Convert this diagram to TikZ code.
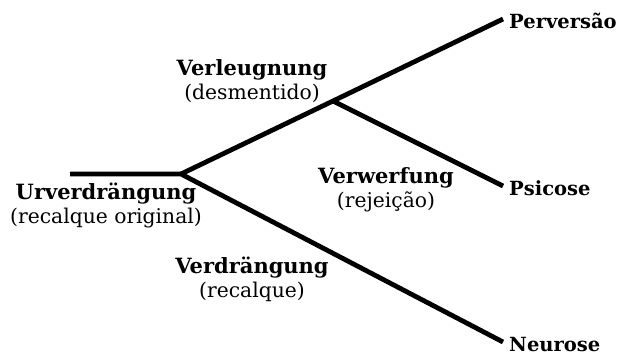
\documentclass[tikz,border=0pt]{standalone}
\usepackage{fontspec}
\setmainfont{DejaVu Serif}
\begin{document}
\begin{tikzpicture}[x=1pt,y=-1pt,
  branch/.style={line width=4.8pt,line cap=butt,line join=miter},
  term/.style={font=\fontsize{19.5}{22}\selectfont\bfseries,anchor=base west,
    inner xsep=6pt,inner ysep=0pt,text height=18pt,text depth=0pt},
  lbl/.style={align=center,inner sep=0pt,anchor=base,
    font=\fontsize{20.3}{24}\selectfont}]
\newcommand\headword[1]{{\bfseries\fontsize{21}{24}\selectfont #1}}
\useasboundingbox (0,0) rectangle (623,356);
% branch points
\coordinate (root) at (70,174);
\coordinate (fork) at (181,174);
\coordinate (split) at (333,101);
% end terms, positioned by their baselines
\node[term] (perv) at (503,28) {Perversão};
\node[term] (psic) at (503,195) {Psicose};
\node[term] (neur) at (503,351) {Neurose};
% connectors
\draw[branch] (root) -- (fork) -- (neur.west);
\draw[branch] (fork) -- (split) -- (perv.west);
\draw[branch] (split) -- (psic.west);
% labels, anchored at the baseline of their lower line
\node[lbl] (urv) at (106,223) {\headword{Urverdrängung}\\(recalque original)};
\node[lbl] (verl) at (252,99) {\headword{Verleugnung}\\(desmentido)};
\node[lbl] (verw) at (386,207) {\headword{Verwerfung}\\(rejeição)};
\node[lbl] (verd) at (252,297) {\headword{Verdrängung}\\(recalque)};
\end{tikzpicture}
\end{document}
